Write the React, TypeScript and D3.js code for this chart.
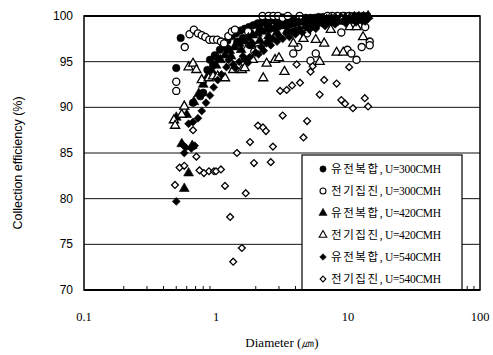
import React from "react";
import * as d3 from "d3";

const W = 493;
const H = 355;

const xTicks = [0.1, 1, 10, 100];
const xTickLabels = ["0.1", "1", "10", "100"];
const yTicks = [70, 75, 80, 85, 90, 95, 100];
const yGrid = [75, 80, 85, 90, 95];

const legendLabels = [
  ["유전복합", ", U=300CMH"],
  ["전기집진", ", U=300CMH"],
  ["유전복합", ", U=420CMH"],
  ["전기집진", ", U=420CMH"],
  ["유전복합", ", U=540CMH"],
  ["전기집진", ", U=540CMH"],
];

// [diameter (um), efficiency (%)]
const hybrid300: [number, number][] = [
  [0.5, 94.3], [0.54, 97.6], [0.67, 90.5], [0.76, 91.2], [0.8, 91.6], [0.86, 94.1],
  [0.9, 95.2], [0.95, 94.6], [0.98, 95.7], [1.0, 95.5], [1.07, 96.3], [1.13, 96.9],
  [1.2, 96.5], [1.22, 97.3], [1.32, 97.8], [1.42, 98.1], [1.45, 97.2], [1.53, 98.4],
  [1.6, 97.6], [1.65, 98.6], [1.78, 98.8], [1.81, 96.8], [1.92, 99.0], [2.07, 99.2],
  [2.15, 98.6], [2.23, 99.3], [2.4, 99.4], [2.45, 99.0], [2.6, 99.5], [2.8, 99.5],
  [2.9, 98.9], [3.0, 99.6], [3.25, 99.6], [3.3, 99.3], [3.5, 99.7], [3.7, 99.1],
  [3.8, 99.7], [4.1, 99.7], [4.4, 99.8], [4.6, 99.5], [4.8, 99.8], [5.2, 99.8],
  [5.4, 99.2], [5.6, 99.8], [6.0, 99.9], [6.2, 99.6], [6.5, 99.9], [7.0, 99.9],
  [7.2, 99.4], [7.6, 99.9], [8.0, 99.7], [8.2, 99.9], [8.8, 99.9], [9.0, 99.5],
  [9.5, 100], [10.0, 99.8], [10.3, 100], [11.1, 100], [11.5, 99.6], [12.0, 100],
  [12.5, 99.8], [13.0, 100], [13.5, 99.6], [14.0, 100],
];

const esp300: [number, number][] = [
  [0.5, 91.8], [0.5, 92.8], [0.58, 96.6], [0.63, 98.0], [0.68, 98.5], [0.73, 98.1],
  [0.78, 97.9], [0.83, 97.7], [0.89, 97.4], [0.95, 97.4], [1.02, 97.4], [1.09, 97.2],
  [1.15, 97.0], [1.24, 97.8], [1.32, 98.3], [1.39, 98.5], [1.57, 96.8], [1.65, 97.4],
  [1.75, 98.3], [1.95, 96.1], [2.1, 96.4], [2.25, 100], [2.5, 100], [2.72, 100],
  [2.95, 100], [3.2, 99.8], [3.5, 100], [3.85, 95.9], [4.2, 96.6], [4.3, 100],
  [4.9, 98.1], [5.2, 95.1], [5.7, 95.9], [6.2, 99.5], [7.0, 100], [7.6, 100],
  [8.3, 100], [8.9, 98.2], [9.2, 100], [9.9, 96.3], [10.2, 100], [10.6, 95.9],
  [11.6, 95.2], [12.0, 99.0], [12.7, 96.6], [13.5, 98.8], [14.6, 97.2], [14.6, 96.8],
];

const hybrid420: [number, number][] = [
  [0.575, 81.1], [0.62, 82.8], [0.55, 86.0], [0.66, 85.8], [0.5, 88.9], [0.6, 89.2],
  [0.68, 90.6], [0.74, 91.5], [0.8, 92.5], [0.86, 93.3], [0.93, 94.0], [1.0, 94.6],
  [1.08, 95.2], [1.17, 95.7], [1.27, 96.2], [1.3, 95.6], [1.38, 96.6], [1.5, 97.0],
  [1.55, 96.3], [1.62, 97.3], [1.76, 97.6], [1.85, 96.9], [1.9, 97.9], [2.06, 98.1],
  [2.15, 97.3], [2.23, 98.3], [2.42, 98.5], [2.5, 97.8], [2.62, 98.6], [2.84, 98.8],
  [2.9, 98.2], [3.08, 98.9], [3.34, 99.0], [3.5, 98.5], [3.62, 99.1], [3.9, 99.2],
  [4.0, 98.4], [4.25, 99.3], [4.6, 99.4], [4.8, 98.9], [5.0, 99.4], [5.4, 99.5],
  [5.6, 99.0], [5.85, 99.5], [6.35, 99.6], [6.6, 99.2], [6.9, 99.6], [7.5, 99.7],
  [7.8, 99.3], [8.1, 99.7], [8.8, 99.8], [9.0, 99.4], [9.5, 99.8], [10.3, 99.8],
  [10.8, 99.5], [11.2, 99.9], [12.1, 99.9], [12.5, 99.5], [13.1, 99.9], [14.2, 100],
];

const esp420: [number, number][] = [
  [0.48, 88.6], [0.49, 88.0], [0.55, 89.2], [0.575, 90.1], [0.62, 94.4], [0.67, 94.8],
  [0.71, 94.1], [0.78, 93.0], [0.88, 93.2], [0.95, 93.4], [1.03, 93.4], [1.17, 93.2],
  [1.28, 94.9], [1.35, 94.1], [1.57, 94.1], [1.65, 94.3], [1.9, 95.2], [2.28, 93.2],
  [2.42, 94.8], [2.8, 95.2], [3.0, 95.4], [3.3, 93.9], [3.85, 97.0], [4.6, 97.5],
  [5.7, 97.4], [6.1, 95.0], [6.6, 97.0], [7.4, 98.5], [8.2, 96.0], [9.2, 96.0],
  [10.3, 98.8], [11.6, 98.8], [13.0, 97.7], [9.0, 99.6],
];

const hybrid540: [number, number][] = [
  [0.5, 79.7], [0.56, 85.9], [0.59, 85.6], [0.575, 85.0], [0.65, 85.5], [0.69, 85.8],
  [0.62, 88.2], [0.67, 88.4], [0.73, 88.8], [0.78, 89.6], [0.84, 90.5], [0.9, 91.3],
  [0.96, 92.2], [1.03, 93.0], [1.1, 93.6], [1.2, 94.4], [1.25, 95.2], [1.35, 94.7],
  [1.4, 94.3], [1.5, 95.0], [1.6, 95.6], [1.65, 95.3], [1.75, 94.9], [1.8, 95.5],
  [1.9, 97.0], [2.0, 96.0], [2.1, 95.8], [2.2, 96.6], [2.3, 96.2], [2.4, 97.0],
  [2.5, 97.3], [2.6, 96.8], [2.7, 97.5], [2.9, 97.2], [3.0, 97.8], [3.2, 97.5],
  [3.4, 98.1], [3.6, 97.7], [3.8, 98.3], [4.0, 98.0], [4.3, 98.6], [4.5, 98.2],
  [4.8, 98.8], [5.1, 98.5], [5.4, 99.0], [5.7, 98.6], [5.9, 99.1], [6.4, 99.2],
  [6.7, 98.9], [7.0, 99.3], [7.7, 99.4], [8.0, 99.1], [8.4, 99.5], [9.2, 99.5],
  [9.6, 99.2], [10.0, 99.6], [11.0, 99.6], [11.5, 99.3], [12.0, 99.7], [13.0, 99.7],
  [13.5, 99.4], [14.2, 99.7],
];

const esp540: [number, number][] = [
  [0.489, 81.5], [0.53, 83.4], [0.575, 83.6], [0.67, 87.5], [0.71, 84.6], [0.75, 83.1],
  [0.81, 82.8], [0.885, 83.0], [0.965, 83.0], [1.0, 83.0], [1.09, 83.2], [1.17, 81.4],
  [1.28, 78.0], [1.35, 73.1], [1.44, 85.0], [1.57, 74.6], [1.68, 80.6], [1.81, 86.2],
  [1.94, 83.9], [2.08, 88.0], [2.27, 87.8], [2.39, 87.4], [2.6, 84.0], [2.7, 85.7],
  [3.06, 91.8], [3.2, 89.1], [3.43, 91.9], [3.77, 92.4], [4.08, 94.7], [4.33, 92.7],
  [4.6, 86.7], [4.9, 88.5], [5.2, 93.9], [5.4, 94.5], [6.1, 91.4], [6.6, 93.0],
  [8.2, 92.6], [8.9, 90.8], [9.5, 90.4], [10.2, 94.4], [10.9, 89.9], [13.4, 91.0],
  [14.2, 90.1],
];

const series = [
  { data: hybrid300, shape: d3.symbolCircle, size: 44, filled: true },
  { data: esp300, shape: d3.symbolCircle, size: 40, filled: false },
  { data: hybrid420, shape: d3.symbolTriangle, size: 42, filled: true },
  { data: esp420, shape: d3.symbolTriangle, size: 36, filled: false },
  { data: hybrid540, shape: d3.symbolDiamond2, size: 40, filled: true },
  { data: esp540, shape: d3.symbolDiamond2, size: 30, filled: false },
];

const L = 84, R = 480, T = 16, B = 290;

export default function App() {
  const x = d3.scaleLog().domain([0.1, 100]).range([L, R]);
  const y = d3.scaleLinear().domain([70, 100]).range([B, T]);

  const minor: number[] = [];
  for (const dec of [0.1, 1, 10]) for (let k = 2; k <= 9; k++) minor.push(dec * k);

  const sym = (s: any, size: number) => d3.symbol().type(s).size(size)() as string;

  const lgX = 302, lgY = 155, lgW = 160, lgH = B - 155;

  return (
    <svg width={W} height={H} style={{ display: "block", position: "absolute", left: 0, top: 0 }}>
      <rect x={0} y={0} width={W} height={H} fill="#fff" />
      {yGrid.map((v) => (
        <line key={v} x1={L} x2={R} y1={y(v)} y2={y(v)} stroke="#111" strokeWidth={1} />
      ))}
      {minor.map((m) => (
        <line key={m} x1={x(m)} x2={x(m)} y1={B} y2={B - 4} stroke="#111" strokeWidth={1} />
      ))}
      {series.map((s, i) => (
        <g key={i}>
          {s.data.map((p, j) => (
            <path
              key={j}
              d={sym(s.shape, s.size)}
              transform={`translate(${x(p[0])},${y(p[1])})`}
              fill={s.filled ? "#000" : "#fff"}
              stroke="#000"
              strokeWidth={s.filled ? 0.6 : 1.3}
            />
          ))}
        </g>
      ))}
      {/* legend */}
      <rect x={lgX} y={lgY} width={lgW} height={lgH} fill="#fff" stroke="#000" strokeWidth={1.2} />
      {legendLabels.map((lab, i) => {
        const cy = 169 + i * 22;
        const s = series[i];
        return (
          <g key={i}>
            <path
              d={sym(s.shape, s.size * 0.7)}
              transform={`translate(${323},${cy})`}
              fill={s.filled ? "#000" : "#fff"}
              stroke="#000"
              strokeWidth={s.filled ? 0.5 : 1.1}
            />
            <text x={331} y={cy + 4} fontSize={11.5} fill="#000">
              <tspan fontFamily="'Noto Sans CJK KR'" letterSpacing={1.6}>{lab[0]}</tspan>
              <tspan fontFamily="'Liberation Serif'" letterSpacing={-0.3}>{lab[1]}</tspan>
            </text>
          </g>
        );
      })}
      {/* frame */}
      <rect x={L} y={T} width={R - L} height={B - T} fill="none" stroke="#000" strokeWidth={1.5} />
      <line x1={L} x2={R} y1={T} y2={T} stroke="#000" strokeWidth={2} />
      <line x1={L} x2={R} y1={B} y2={B} stroke="#000" strokeWidth={2} />
      {/* y ticks */}
      {yTicks.map((v) => (
        <text key={v} x={73} y={y(v) + 4} textAnchor="end" fontFamily="'Liberation Sans'" fontSize={12} fill="#000">
          {v}
        </text>
      ))}
      {/* x ticks */}
      {xTicks.map((v, i) => (
        <text key={v} x={x(v)} y={321} textAnchor="middle" fontFamily="'Liberation Serif'" fontSize={12.5} fill="#000">
          {xTickLabels[i]}
        </text>
      ))}
      <text x={282} y={347} textAnchor="middle" fontFamily="'Liberation Serif'" fontSize={13} fill="#000">
        Diameter (㎛)
      </text>
      <text
        transform={`translate(22,${163}) rotate(-90)`}
        textAnchor="middle"
        fontFamily="'Liberation Sans'"
        fontSize={12.5}
        fill="#000"
      >
        Collection efficiency (%)
      </text>
    </svg>
  );
}
